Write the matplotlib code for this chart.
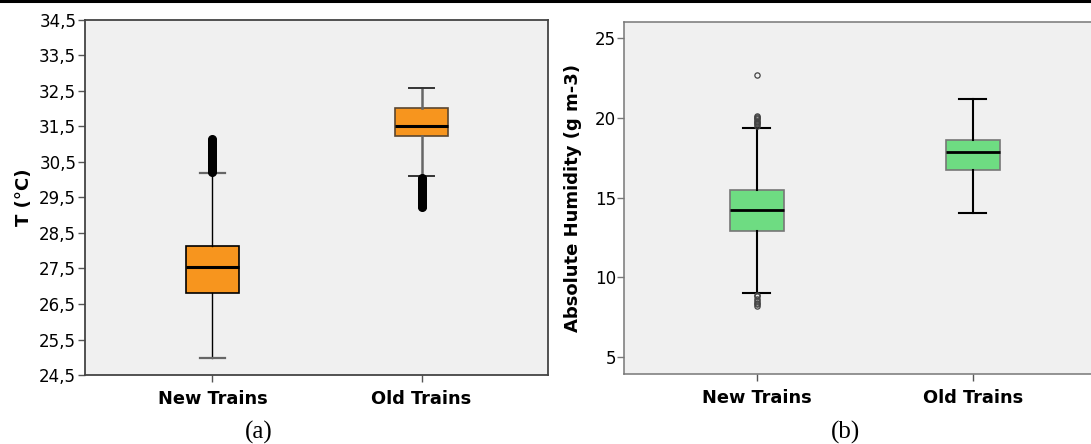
import numpy as np
import matplotlib
matplotlib.use("Agg")
import matplotlib.pyplot as plt
from matplotlib.lines import Line2D

# ---- data ----
groups = ["New Trains", "Old Trains"]

# (a) temperature, deg C
temp_q1 = [26.80, 31.24]
temp_med = [27.55, 31.51]
temp_q3 = [28.14, 32.01]
temp_whislo = [24.99, 30.10]
temp_whishi = [30.19, 32.58]
temp_fliers_new = [30.22, 30.26, 30.30, 30.34, 30.38, 30.42, 30.46, 30.50, 30.54, 30.58,
                   30.62, 30.66, 30.70, 30.74, 30.78, 30.82, 30.86, 30.90, 30.94, 30.98,
                   31.02, 31.06, 31.10, 31.14]
temp_fliers_old = [29.22, 29.26, 29.30, 29.34, 29.38, 29.42, 29.46, 29.50, 29.54, 29.58,
                   29.62, 29.66, 29.70, 29.74, 29.78, 29.82, 29.86, 29.90, 29.94, 29.98,
                   30.02, 30.06]
temp_ticks = [24.5, 25.5, 26.5, 27.5, 28.5, 29.5, 30.5, 31.5, 32.5, 33.5, 34.5]

# (b) absolute humidity, g m-3
hum_q1 = [12.90, 16.71]
hum_med = [14.24, 17.88]
hum_q3 = [15.49, 18.61]
hum_whislo = [8.98, 14.05]
hum_whishi = [19.37, 21.19]
hum_fliers_new = [8.18, 8.28, 8.40, 8.52, 8.65, 8.78, 8.88,
                  19.52, 19.60, 19.68, 19.76, 19.84, 19.92, 20.00, 20.08, 20.15,
                  22.72]
hum_fliers_old = []
hum_ticks = [5, 10, 15, 20, 25]

orange = "#F7951E"
green = "#6EDC82"
panel_bg = "#F0F0F0"

fig = plt.figure(figsize=(10.91, 4.44), dpi=100)

# thick rule along the top edge
fig.add_artist(Line2D([0, 1], [1 - 1.5 / 444, 1 - 1.5 / 444], transform=fig.transFigure,
                      color="black", lw=2.2))


def stats(q1, med, q3, lo, hi, fl):
    out = []
    for i in range(len(q1)):
        out.append(dict(q1=q1[i], med=med[i], q3=q3[i], whislo=lo[i], whishi=hi[i],
                        fliers=fl[i], label=groups[i]))
    return out


# ---------- (a) ----------
ax1 = fig.add_axes([0.0775, 0.1554, 0.4248, 0.7996])
ax1.set_facecolor(panel_bg)
st = stats(temp_q1, temp_med, temp_q3, temp_whislo, temp_whishi,
           [temp_fliers_new, temp_fliers_old])
# new trains
ax1.bxp([st[0]], positions=[1], widths=0.25, patch_artist=True,
        boxprops=dict(facecolor=orange, edgecolor="black", lw=1.2),
        medianprops=dict(color="black", lw=2.2),
        whiskerprops=dict(color="black", lw=1.0),
        capprops=dict(color="#666666", lw=1.6), capwidths=0.12,
        flierprops=dict(marker="o", markersize=5.5, markerfacecolor="black",
                        markeredgecolor="black"))
# old trains
ax1.bxp([st[1]], positions=[2], widths=0.25, patch_artist=True,
        boxprops=dict(facecolor=orange, edgecolor="#5a4630", lw=1.2),
        medianprops=dict(color="black", lw=2.2),
        whiskerprops=dict(color="#666666", lw=1.8),
        capprops=dict(color="#333333", lw=1.4), capwidths=0.12,
        flierprops=dict(marker="o", markersize=5.5, markerfacecolor="black",
                        markeredgecolor="black"))
ax1.set_xlim(0.388, 2.605)
ax1.set_ylim(24.5, 34.5)
ax1.set_yticks(temp_ticks)
ax1.set_yticklabels([f"{v:.1f}".replace(".", ",") for v in temp_ticks])
ax1.set_xticks([1, 2])
ax1.set_xticklabels(groups, fontweight="bold", fontsize=12.8)
ax1.set_ylabel("T (°C)", fontweight="bold", fontsize=13)
ax1.yaxis.set_label_coords(-0.112, 0.5)
for s in ax1.spines.values():
    s.set_color("#444444")
    s.set_linewidth(1.3)
ax1.tick_params(axis="y", labelsize=12, length=5, width=1, color="#555555", pad=1)
ax1.tick_params(axis="x", length=5, width=1, color="#555555", pad=6)

# ---------- (b) ----------
ax2 = fig.add_axes([0.5723, 0.1577, 0.4295, 0.7934])
ax2.set_facecolor(panel_bg)
st2 = stats(hum_q1, hum_med, hum_q3, hum_whislo, hum_whishi,
            [hum_fliers_new, hum_fliers_old])
ax2.bxp(st2, positions=[1, 2], widths=0.25, patch_artist=True,
        boxprops=dict(facecolor=green, edgecolor="#777777", lw=1.2),
        medianprops=dict(color="black", lw=2.0),
        whiskerprops=dict(color="black", lw=1.5),
        capprops=dict(color="black", lw=1.5), capwidths=0.125,
        flierprops=dict(marker="o", markersize=3.8, markerfacecolor="none",
                        markeredgecolor="#444444", markeredgewidth=0.9))
ax2.set_xlim(0.387, 2.557)
ax2.set_ylim(3.91, 26.05)
ax2.set_yticks(hum_ticks)
ax2.set_xticks([1, 2])
ax2.set_xticklabels(groups, fontweight="bold", fontsize=12.8)
ax2.set_ylabel("Absolute Humidity (g m-3)", fontweight="bold", fontsize=13)
ax2.yaxis.set_label_coords(-0.0907, 0.5)
for s in ax2.spines.values():
    s.set_color("#777777")
    s.set_linewidth(1.1)
ax2.tick_params(axis="y", labelsize=12, length=5, width=1, color="#777777", pad=1)
ax2.tick_params(axis="x", length=5, width=1, color="#555555", pad=6)

fig.text(259 / 1091, 1 - 432 / 444, "(a)", family="Liberation Serif", fontsize=18,
         ha="center", va="center")
fig.text(846 / 1091, 1 - 432 / 444, "(b)", family="Liberation Serif", fontsize=18,
         ha="center", va="center")

fig.savefig("out.png", dpi=100, facecolor="white")
